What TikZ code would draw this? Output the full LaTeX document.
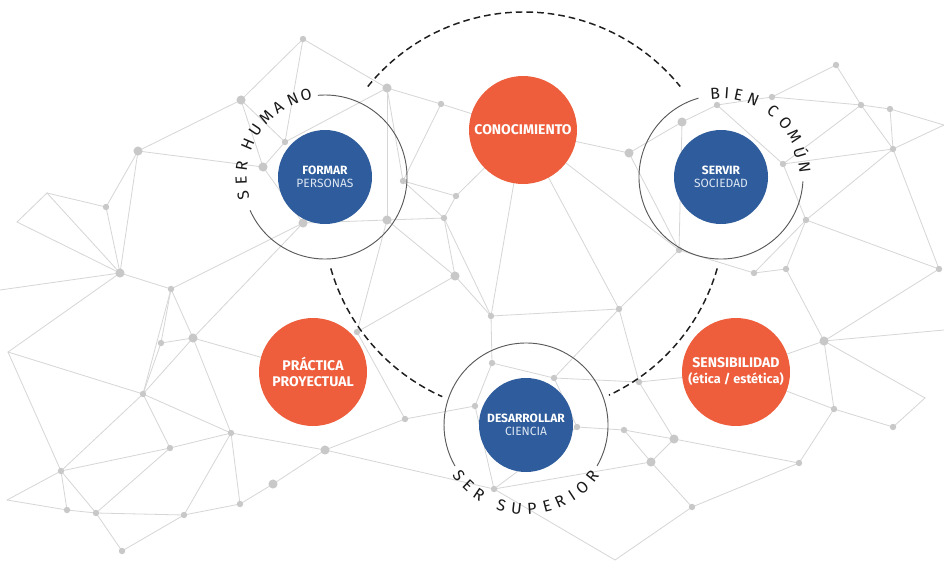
\documentclass[tikz,border=0pt]{standalone}
\usepackage{fontspec}
\setmainfont{Fira Sans}
\usepackage{tikz}
\usepackage{tkz-euclide}
\usetikzlibrary{calc}

\definecolor{naranja}{RGB}{238,94,60}
\definecolor{azul}{RGB}{46,92,156}
\definecolor{claro}{RGB}{220,230,243}
\definecolor{gristrama}{RGB}{214,214,214}
\definecolor{grispunto}{RGB}{200,200,200}
\definecolor{grisanillo}{RGB}{90,90,90}
\definecolor{trazo}{RGB}{30,30,30}

\tikzset{
  malla/.style={draw=gristrama, line width=0.6pt},
  punto/.style={fill=grispunto},
  disco/.style={circle, inner sep=0pt, align=center, text=white},
  naranjo/.style={disco, fill=naranja, minimum size=81pt,
    font=\fontsize{10.5}{12}\selectfont\bfseries},
  azulito/.style={disco, fill=azul, minimum size=70.5pt,
    font=\fontsize{9}{10}\selectfont},
  anillo/.style={draw=grisanillo, line width=0.7pt},
  discont/.style={draw=trazo, line width=1.1pt, dash pattern=on 5pt off 3pt},
  letra/.style={inner sep=0pt, text=black!90, font=\fontsize{12}{13}\selectfont},
}

\begin{document}
\begin{tikzpicture}[x=0.75pt, y=0.75pt]
                \fill[white] (0,0) rectangle (944,-560);
                \useasboundingbox (0,0) rectangle (944,-560);
                % malla de fondo
                \tkzDefPoints{303/-39/A, 241/-100/B, 387/-88/C, 441/-104/D, 138/-151/E,
                  285/-142/F, 263/-167/G, 403/-181/H, 456/-196/I, 444/-218/J,
                  387/-220/K, 303/-223/L, 106/-207/M, 47/-193/N, 17/-222/O,
                  120/-273/P, 455/-276/Q, 171/-289/R, 193/-338/S, 161/-343/T,
                  143/-394/U, 231/-433/V, 170/-448/W, 61/-471/X, 67/-510/Y,
                  96/-513/Z, 122/-551/a, 184/-515/b, 240/-504/c, 273/-484/d,
                  325/-450/e, 405/-419/f, 357/-332/g, 8/-352/h, 7/-500/i,
                  491/-316/j, 619/-309/k, 492/-363/l, 554/-378/m, 639/-382/n,
                  577/-427/o, 624/-430/p, 674/-439/q, 651/-462/r, 692/-507/s,
                  494/-489/t, 475/-406/u, 629/-153/v, 682/-122/w, 717/-105/x,
                  772/-97/y, 836/-65/z, 861/-105/A2, 890/-109/B2, 893/-149/C2,
                  783/-164/D2, 806/-220/E2, 754/-273/F2, 786/-269/G2, 939/-269/H2,
                  679/-250/I2, 944/-125/J2, 824/-341/K2, 834/-409/L2, 893/-427/M2,
                  799/-463/N2, 925/-398/O2, 944/-330/P2, 523/-130/Q2, 313/-372/R2,
                  736/-372/S2, 615/-560/T2, 0/-290/U2}
                \tkzDrawSegments[malla](A,B A,C A,F B,E B,F B,G F,G F,C E,G E,M E,P M,N N,O O,P N,P M,P G,L C,D C,H C,K D,H D,Q2 H,I H,J I,J J,K K,L J,Q K,Q K,g L,R S,L P,R R,S R,T R,U S,T S,U S,V S,R2 T,U h,P h,U h,X U,V U,W U,X V,W V,b V,c V,e W,X W,Z X,Y X,Z X,i i,Y Y,Z Z,a Z,b a,b b,c c,d d,e e,f e,t f,u f,g g,Q Q,j J,j Q2,j Q2,k j,k Q2,v I,Q2 v,w w,x x,y y,z z,A2 y,A2 A2,B2 A2,D2 A2,C2 B2,J2 B2,C2 C2,J2 C2,D2 C2,E2 C2,H2 D2,x D2,E2 E2,F2 E2,G2 E2,H2 F2,G2 F2,I2 v,I2 w,I2 Q2,I2 I2,k k,n k,m j,l l,m l,u m,n m,o n,q o,p p,q p,r q,r q,N2 r,s s,N2 r,t t,u t,o N2,L2 L2,K2 L2,M2 M2,O2 K2,O2 K2,H2 K2,P2 K2,G2 s,T2 t,T2 L2,S2 K2,S2 n,S2 U2,P)
                \foreach \p in {B,C,E,G,K,L,P,Q,S,d,e,q,r,v,w,K2}
                  \fill[punto] (\p) circle (3.4pt);
                \foreach \p in {A,D,F,H,I,J,M,R,T,U,V,W,X,Y,Z,a,b,c,f,g,j,k,l,m,n,o,p,s,t,u,x,y,z,A2,B2,C2,D2,E2,F2,G2,H2,I2,L2,M2,N2}
                  \fill[punto] (\p) circle (2.4pt);
                % circulo punteado
                \coordinate (centro) at (524,-213);
                \draw[discont] (centro) ++(141:150.75pt) arc[start angle=141, end angle=39, radius=150.75pt];
                \draw[discont] (centro) ++(196:150.75pt) arc[start angle=196, end angle=246, radius=150.75pt];
                \draw[discont] (centro) ++(-16:150.75pt) arc[start angle=-16, end angle=-65, radius=150.75pt];
                % discos
                \node[naranjo] (conoc) at (523,-130) {CONOCIMIENTO};
                \node[naranjo] (practica) at (313,-372) {PRÁCTICA\\PROYECTUAL};
                \node[naranjo] (sensib) at (736,-372) {SENSIBILIDAD\\{\fontsize{9.5}{11}\selectfont(ética / estética)}};
                \node[azulito] (formar) at (325,-177) {{\bfseries FORMAR}\\\textcolor{claro}{PERSONAS}};
                \node[azulito] (servir) at (721,-177) {{\bfseries SERVIR}\\\textcolor{claro}{SOCIEDAD}};
                \node[azulito] (desarrollar) at (526,-425) {{\bfseries DESARROLLAR}\\\textcolor{claro}{CIENCIA}};
                % anillos con texto
                \draw[anillo] (formar.center) ++(95:61.5pt) arc[start angle=95, end angle=-156, radius=61.5pt];
                \draw[anillo] (servir.center) ++(106:61.5pt) arc[start angle=106, end angle=357, radius=61.5pt];
                \draw[anillo] (desarrollar.center) ++(-30:61.5pt) arc[start angle=-30, end angle=210, radius=61.5pt];
                \foreach \ch/\ang in {S/193,E/182.5,R/172.5,H/157,U/146,M/134.5,A/124,N/112.5,O/103}
                  \path (formar.center) ++(\ang:63pt) node[letra, rotate=\ang-90] {\ch};
                \foreach \ch/\ang in {B/94,I/86,E/78,N/67.5,C/52,O/40,M/29,Ú/17,N/7}
                  \path (servir.center) ++(\ang:63pt) node[letra, rotate=\ang-90] {\ch};
                \foreach \ch/\ang in {S/217,E/226.5,R/236,S/253,U/263.5,P/274,E/284.5,R/294,I/303,O/312,R/322}
                  \path (desarrollar.center) ++(\ang:63pt) node[letra, rotate=\ang+90] {\ch};
\end{tikzpicture}
\end{document}
